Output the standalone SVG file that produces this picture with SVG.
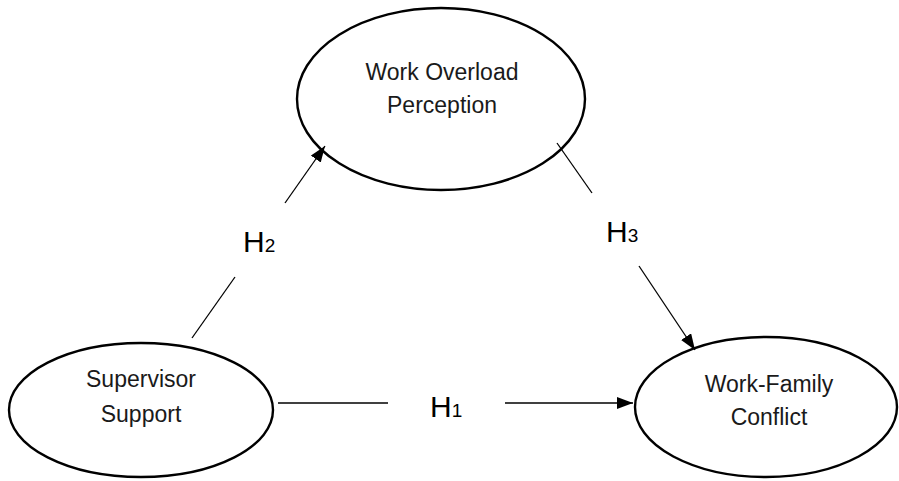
<svg xmlns="http://www.w3.org/2000/svg" width="899" height="481" viewBox="0 0 899 481">
<style>
.node{fill:#fff;stroke:#000;stroke-width:2.4}
.lbl{font-family:"Liberation Sans",Arial,sans-serif;font-size:23px;fill:#1a1a1a;text-anchor:middle}
.h{font-family:"Liberation Sans",Arial,sans-serif;font-size:30px;fill:#000}
.sub{font-size:19px}
.c{stroke:#000;stroke-width:1.3;fill:none}
</style>
<defs>
<marker id="arr" markerUnits="userSpaceOnUse" markerWidth="17" markerHeight="13" refX="16" refY="6" orient="auto">
<path d="M0,0 L16,6 L0,12 z" fill="#000"/>
</marker>
</defs>
<rect width="899" height="481" fill="#fff"/>
<g id="wop">
<ellipse class="node" cx="441" cy="99" rx="144" ry="91"/>
<text class="lbl" x="442" y="80">Work Overload</text>
<text class="lbl" x="442" y="113">Perception</text>
</g>
<g id="ss">
<ellipse class="node" cx="141" cy="410" rx="132" ry="67"/>
<text class="lbl" x="141" y="387">Supervisor</text>
<text class="lbl" x="141" y="422">Support</text>
</g>
<g id="wfc">
<ellipse class="node" cx="766" cy="407" rx="131" ry="70"/>
<text class="lbl" x="769" y="392">Work-Family</text>
<text class="lbl" x="769" y="425">Conflict</text>
</g>
<g id="connectors">
<line class="c" x1="278" y1="403" x2="388" y2="403"/>
<line class="c" x1="505" y1="403" x2="633" y2="403" marker-end="url(#arr)"/>
<line class="c" x1="192" y1="338" x2="235" y2="277"/>
<line class="c" x1="285" y1="203" x2="325" y2="146" marker-end="url(#arr)"/>
<line class="c" x1="557" y1="143" x2="592" y2="193"/>
<line class="c" x1="639" y1="266" x2="695" y2="350" marker-end="url(#arr)"/>
</g>
<g id="labels">
<text class="h" x="430" y="417">H<tspan class="sub">1</tspan></text>
<text class="h" x="243" y="252">H<tspan class="sub">2</tspan></text>
<text class="h" x="606" y="242">H<tspan class="sub">3</tspan></text>
</g>
</svg>
